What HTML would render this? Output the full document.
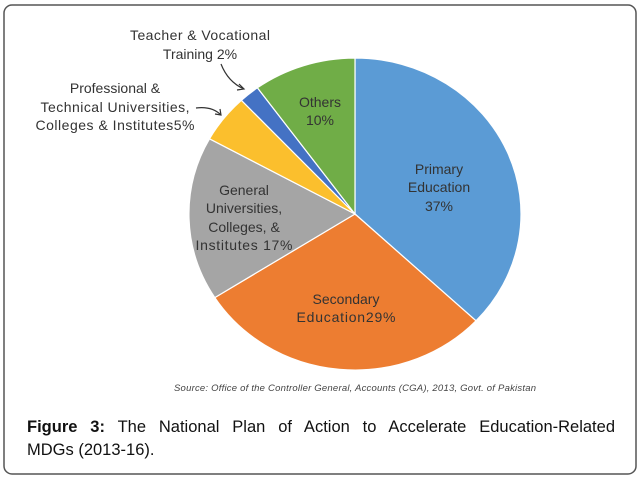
<!DOCTYPE html>
<html><head><meta charset="utf-8"><style>
html,body{margin:0;padding:0;background:#fff;}
body{width:640px;height:479px;overflow:hidden;position:relative;font-family:"Liberation Sans",sans-serif;}
.cap{position:absolute;left:27px;width:588px;top:416px;font-size:16.5px;line-height:23px;color:#111;text-align:justify;text-align-last:left;}
.cap .l1{display:block;text-align:justify;text-align-last:justify;}
</style></head><body>
<svg width="640" height="479" style="position:absolute;left:0;top:0">
<rect x="4" y="5" width="632" height="469" rx="8" fill="none" stroke="#555" stroke-width="1.5"/>
<g stroke="#fff" stroke-width="1.2">
<path d="M355,214 L355,58 A166,156 0 0 1 476,320.8 Z" fill="#5b9bd5"/>
<path d="M355,214 L476,320.8 A166,156 0 0 1 214.8,297.6 Z" fill="#ed7d31"/>
<path d="M355,214 L214.8,297.6 A166,156 0 0 1 209.5,138.8 Z" fill="#a5a5a5"/>
<path d="M355,214 L209.5,138.8 A166,156 0 0 1 241.4,100.3 Z" fill="#fbbf2d"/>
<path d="M355,214 L241.4,100.3 A166,156 0 0 1 257.4,87.8 Z" fill="#4472c4"/>
<path d="M355,214 L257.4,87.8 A166,156 0 0 1 355,58 Z" fill="#70ad47"/>
</g>
<g font-family="Liberation Sans, sans-serif" font-size="14" fill="#333" text-anchor="middle" font-weight="500">
<text x="439" y="174">Primary</text><text x="439" y="192">Education</text><text x="439" y="211">37%</text>
<text x="320" y="107">Others</text><text x="320" y="125">10%</text>
<text x="244" y="195">General</text><text x="244" y="213">Universities,</text><text x="244" y="232">Colleges, &amp;</text><text x="244" y="250" textLength="97">Institutes 17%</text>
<text x="346" y="304">Secondary</text><text x="346" y="322" textLength="99">Education29%</text>
<text x="200" y="40" textLength="140">Teacher &amp; Vocational</text><text x="200" y="59">Training 2%</text>
<text x="115" y="93">Professional &amp;</text><text x="115" y="112" textLength="149">Technical Universities,</text><text x="115" y="130" textLength="159">Colleges &amp; Institutes5%</text>
<text x="355" y="391" font-size="9.5" font-style="italic" font-weight="normal" fill="#444" textLength="362">Source: Office of the Controller General, Accounts (CGA), 2013, Govt. of Pakistan</text>
</g>
<g fill="none" stroke="#333" stroke-width="1.2">
<path d="M221,64 Q228,82 244,89"/><path d="M239,84 L244,89 L237,90"/>
<path d="M196,108 Q212,106 221,115"/><path d="M215,114 L221,115 L220,109"/>
</g>
</svg>
<div class="cap"><span class="l1"><b>Figure 3:</b> The National Plan of Action to Accelerate Education-Related</span>MDGs (2013-16).</div>
</body></html>
